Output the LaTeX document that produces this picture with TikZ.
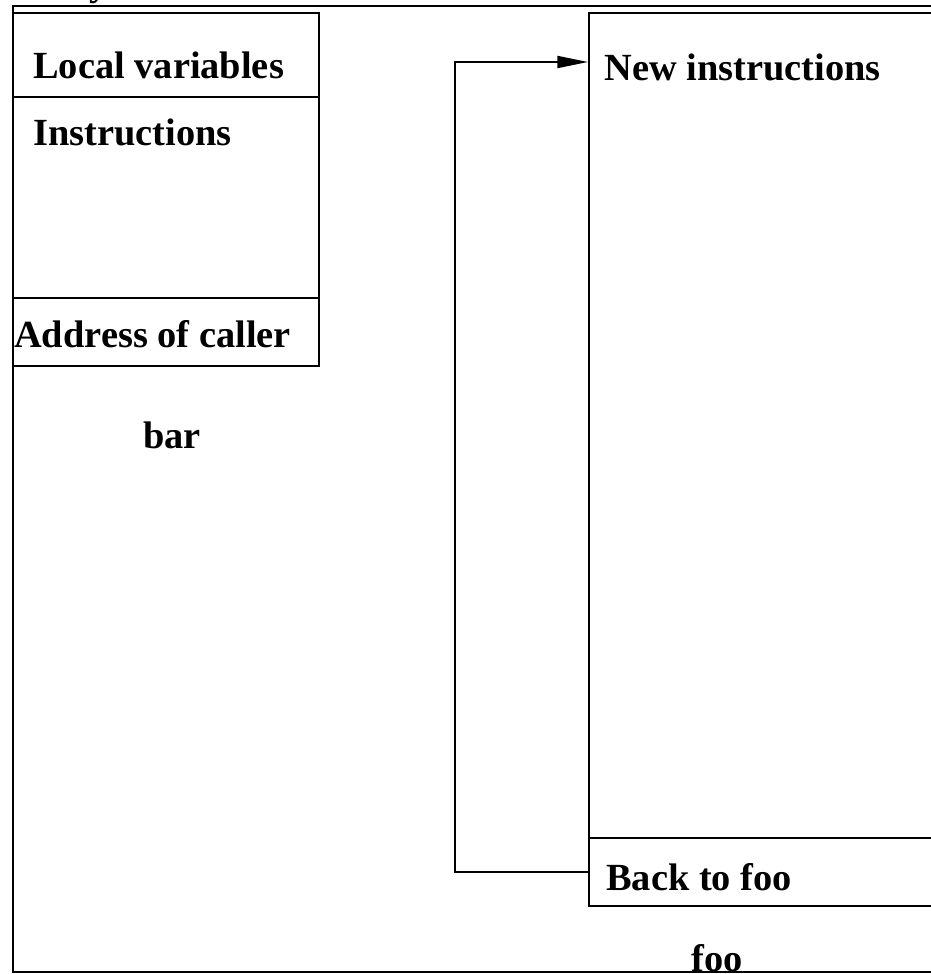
\documentclass[tikz,border=0pt]{standalone}
\usepackage{fontspec}
\setmainfont{Liberation Serif}
\usetikzlibrary{arrows.meta}
\begin{document}
\begin{tikzpicture}[x=0.75pt,y=-0.75pt,
  box/.style={draw, line width=1.4pt, rectangle, inner sep=0pt, anchor=north west},
  lbl/.style={anchor=base west, inner sep=0pt, font=\fontsize{28.8}{30}\selectfont\bfseries},
  clbl/.style={anchor=base, inner sep=0pt, font=\fontsize{28.8}{30}\selectfont\bfseries},
  conn/.style={line width=1.4pt, -{Triangle[length=23pt,width=9pt]}}]
\useasboundingbox (0,0) rectangle (931,974);
% outer frame
\node[box, minimum width=726pt, minimum height=724.5pt] (outer) at (12,5) {};
% partially visible title glyph
\node[lbl] (title) at (89,-4) {y};
% bar
\node[box, minimum width=229.5pt, minimum height=63pt] (barLocal) at (12,12) {};
\node[box, minimum width=229.5pt, minimum height=150.75pt] (barInstr) at (12,96) {};
\node[box, minimum width=229.5pt, minimum height=51pt] (barAddr) at (12,297) {};
\node[lbl] (tLocal) at (33,79) {Local variables};
\node[lbl] (tInstr) at (33,145) {Instructions};
\node[lbl] (tAddr) at (14,347) {Address of caller};
\node[clbl] (tBar) at (172,448) {bar};
% foo
\node[box, minimum width=279pt, minimum height=618.75pt] (fooNew) at (588,12) {};
\node[box, minimum width=279pt, minimum height=51pt] (fooBack) at (588,837) {};
\node[lbl] (tNew) at (604,80) {New instructions};
\node[lbl] (tBack) at (606,890) {Back to foo};
\node[clbl] (tFoo) at (717,971) {foo};
% connector
\coordinate (arrEnd) at (588,62);
\draw[conn] (fooBack.west) -- ++(-133,0) |- (arrEnd);
\end{tikzpicture}
\end{document}
